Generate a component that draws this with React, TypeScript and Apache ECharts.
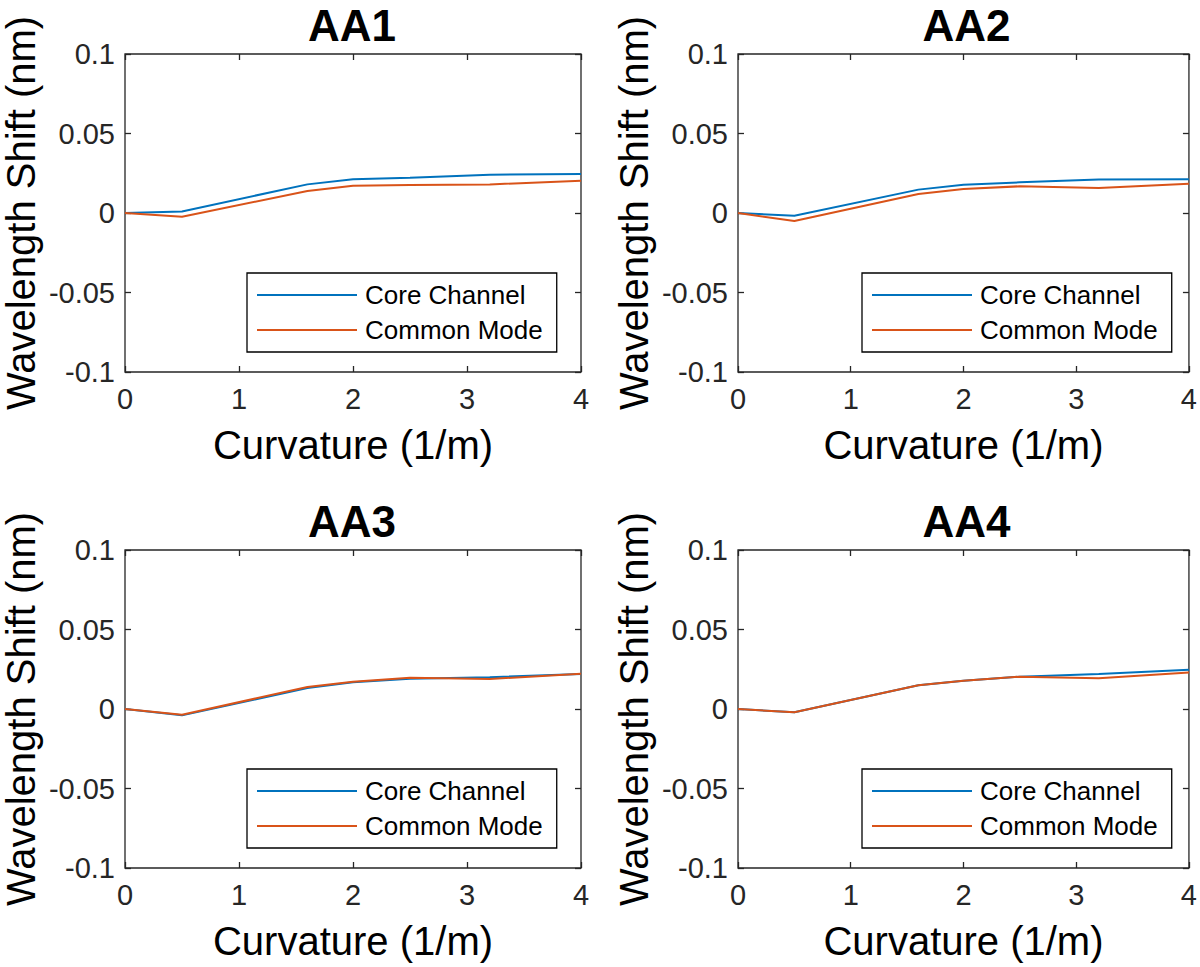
import React, { useEffect, useRef } from "react";
import * as echarts from "echarts";

const panelTitles = ["AA1", "AA2", "AA3", "AA4"];
const seriesNames = ["Core Channel", "Common Mode"];
const curvature = [0, 0.5, 1.6, 2, 2.5, 3.2, 4];

const aa1Core = [0, 0.001, 0.018, 0.0212, 0.0222, 0.0241, 0.0245];
const aa1Common = [0, -0.0023, 0.0138, 0.0172, 0.0176, 0.018, 0.0203];
const aa2Core = [0, -0.0017, 0.0147, 0.0178, 0.0193, 0.021, 0.0212];
const aa2Common = [0, -0.005, 0.012, 0.0151, 0.0168, 0.0157, 0.0184];
const aa3Core = [0, -0.004, 0.0132, 0.0168, 0.019, 0.02, 0.022];
const aa3Common = [0, -0.0036, 0.0138, 0.0172, 0.0197, 0.0189, 0.0222];
const aa4Core = [0, -0.0021, 0.0149, 0.0178, 0.0203, 0.022, 0.0247];
const aa4Common = [0, -0.0021, 0.0149, 0.0178, 0.0203, 0.0193, 0.023];

const coreSets = [aa1Core, aa2Core, aa3Core, aa4Core];
const commonSets = [aa1Common, aa2Common, aa3Common, aa4Common];

const FONT = "'Liberation Sans', Arial, Helvetica, sans-serif";
const AX = "#262626";
const BLUE = "#0072BD";
const ORANGE = "#D95319";

// layout
const grids = [
  { left: 123, top: 54, width: 458, height: 318 },
  { left: 738, top: 54, width: 457, height: 318 },
  { left: 123, top: 550, width: 458, height: 318 },
  { left: 738, top: 550, width: 457, height: 318 },
];

export default function App() {
  const ref = useRef<HTMLDivElement>(null);
  useEffect(() => {
    if (!ref.current) return;
    const chart = echarts.init(ref.current, undefined, { renderer: "svg" });

    const title: any[] = [];
    const grid: any[] = [];
    const xAxis: any[] = [];
    const yAxis: any[] = [];
    const series: any[] = [];
    const legend: any[] = [];

    const fmt = (v: number) => String(Math.round(v * 100) / 100);
    const tick = { show: true, inside: true, length: 6, lineStyle: { color: AX, width: 1.3 } };

    grids.forEach((g, i) => {
      title.push({
        text: panelTitles[i],
        left: g.left + g.width / 2,
        top: g.top - 51,
        padding: 0,
        textAlign: "center",
        textStyle: { fontFamily: FONT, fontWeight: "bold", fontSize: 44, lineHeight: 44, color: "#000" },
      });
      grid.push({
        left: g.left,
        top: g.top,
        width: g.width,
        height: g.height,
        show: true,
        borderColor: AX,
        borderWidth: 1.3,
        backgroundColor: "#fff",
      });
      // bottom x
      xAxis.push({
        type: "value",
        gridIndex: i,
        min: 0,
        max: 4,
        interval: 1,
        position: "bottom",
        name: "Curvature (1/m)",
        nameLocation: "middle",
        nameGap: 53,
        nameTextStyle: { fontFamily: FONT, fontSize: 40, color: "#000" },
        axisLine: { show: false, onZero: false },
        axisTick: tick,
        axisLabel: { fontFamily: FONT, fontSize: 29, color: AX, margin: 12, formatter: fmt },
        splitLine: { show: false },
      });
      // top x (ticks only)
      xAxis.push({
        type: "value",
        gridIndex: i,
        min: 0,
        max: 4,
        interval: 1,
        position: "top",
        axisLine: { show: false, onZero: false },
        axisTick: tick,
        axisLabel: { show: false },
        splitLine: { show: false },
      });
      yAxis.push({
        type: "value",
        gridIndex: i,
        min: -0.1,
        max: 0.1,
        interval: 0.05,
        position: "left",
        name: "Wavelength Shift (nm)",
        nameLocation: "middle",
        nameGap: 84,
        nameTextStyle: { fontFamily: FONT, fontSize: 40, color: "#000" },
        axisLine: { show: false, onZero: false },
        axisTick: tick,
        axisLabel: { fontFamily: FONT, fontSize: 29, color: AX, margin: 10, formatter: fmt },
        splitLine: { show: false },
      });
      yAxis.push({
        type: "value",
        gridIndex: i,
        min: -0.1,
        max: 0.1,
        interval: 0.05,
        position: "right",
        axisLine: { show: false, onZero: false },
        axisTick: tick,
        axisLabel: { show: false },
        splitLine: { show: false },
      });
      series.push({
        type: "line",
        name: seriesNames[0],
        xAxisIndex: i * 2,
        yAxisIndex: i * 2,
        data: curvature.map((x, k) => [x, coreSets[i][k]]),
        symbol: "none",
        color: BLUE,
        lineStyle: { color: BLUE, width: 2 },
      });
      series.push({
        type: "line",
        name: seriesNames[1],
        xAxisIndex: i * 2,
        yAxisIndex: i * 2,
        data: curvature.map((x, k) => [x, commonSets[i][k]]),
        symbol: "none",
        color: ORANGE,
        lineStyle: { color: ORANGE, width: 2 },
      });
      legend.push({
        data: seriesNames,
        orient: "vertical",
        left: g.left + 124,
        top: g.top + 219,
        padding: [9, 14, 9, 10],
        itemGap: 9,
        icon: "rect",
        itemWidth: 100,
        itemHeight: 2,
        borderColor: "#000",
        borderWidth: 1.3,
        backgroundColor: "#fff",
        selectedMode: false,
        textStyle: { fontFamily: FONT, fontSize: 26, color: "#000", lineHeight: 26, padding: [0, 0, 0, 3] },
      });
    });

    chart.setOption({
      animation: false,
      backgroundColor: "#fff",
      title,
      grid,
      xAxis,
      yAxis,
      series,
      legend,
    });
    return () => chart.dispose();
  }, []);
  return (
    <div
      ref={ref}
      style={{ position: "absolute", left: 0, top: 0, width: 1200, height: 967 }}
    />
  );
}
